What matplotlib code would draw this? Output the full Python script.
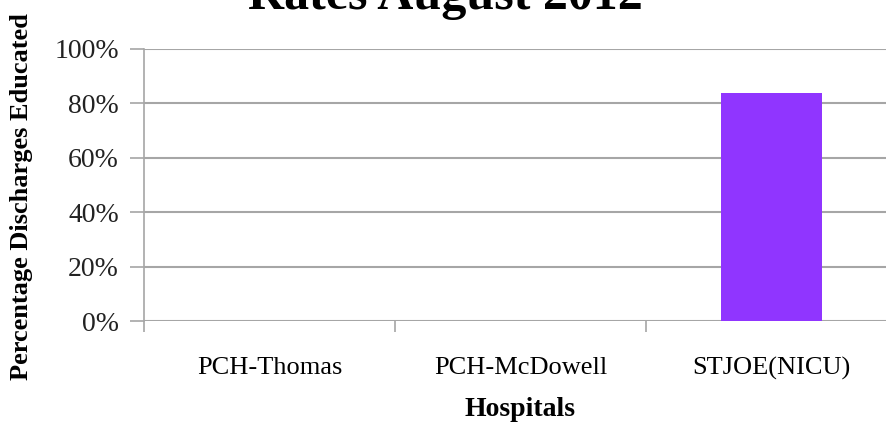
import numpy as np
import matplotlib.pyplot as plt
from matplotlib.ticker import PercentFormatter

hospitals = ['PCH-Thomas', 'PCH-McDowell', 'STJOE(NICU)']
educated = [0.0, 0.0, 0.84]

plt.rcParams['font.family'] = ['Liberation Serif', 'DejaVu Serif']

fig = plt.figure(figsize=(8.86, 4.23), dpi=100)
# plot area runs past the right edge, like the cropped original
ax = fig.add_axes([144/886, 102/423, 753/886, 272/423])

x = np.arange(len(hospitals))
ax.bar(x, educated, width=0.4, color='#9035ff', zorder=3)

ax.set_xlim(-0.5, len(hospitals) - 0.5)
ax.set_ylim(0, 1.0)
ax.yaxis.set_major_formatter(PercentFormatter(1.0, decimals=0))
ax.set_yticks(np.arange(0, 1.01, 0.2))
ax.set_xticks(x)
ax.set_xticklabels(hospitals, fontsize=19)
ax.set_xticks(np.arange(-0.5, len(hospitals)), minor=True)
ax.tick_params(axis='x', which='major', length=0, pad=26)
ax.tick_params(axis='x', which='minor', length=8, color='#a6a6a6', width=1.2)
ax.tick_params(axis='y', length=10, color='#a6a6a6', width=1.2, labelsize=20, pad=8)
for lab in ax.get_yticklabels():
    lab.set_color('#222222')

ax.grid(axis='y', color='#a6a6a6', linewidth=1.5, zorder=0)
for s in ['top', 'right', 'bottom']:
    ax.spines[s].set_visible(False)
ax.spines['left'].set_color('#a6a6a6')
ax.spines['left'].set_linewidth(1.2)

fig.text(22/886, 1 - 197/423, 'Percentage Discharges Educated', rotation=90,
         ha='center', va='center', fontsize=19, fontweight='bold')
fig.text(520/886, 1 - 409/423, 'Hospitals', ha='center', va='center',
         fontsize=20, fontweight='bold')
fig.text(445/886, 1 - 9/423, 'Rates August 2012', ha='center', va='baseline',
         fontsize=36, fontweight='bold')

fig.savefig('out.png', dpi=100)
